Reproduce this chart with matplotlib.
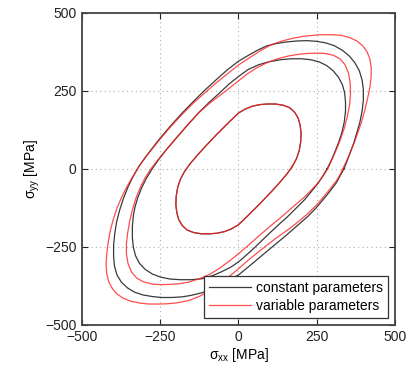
"""Yield locus comparison: constant vs variable parameters."""

import matplotlib

matplotlib.use("Agg")
import matplotlib.pyplot as plt

# inner locus (both parameter sets coincide)
inner_x = [172, 185, 194, 199, 200, 197, 191, 180, 164, 143, 118, 92, 68, 45, 22, 0, -31, -70,
           -106, -133, -155, -172, -185, -194, -199, -200, -197, -191, -180, -164, -143, -118,
           -92, -68, -45, -22, 0, 31, 70, 106, 133, 155, 172]
inner_y = [8, 32, 58, 88, 115, 140, 162, 181, 196, 204, 208, 208, 206, 201, 192, 179, 149, 110,
           72, 42, 16, -8, -32, -58, -88, -115, -140, -162, -181, -196, -204, -208,
           -208, -206, -201, -192, -179, -149, -110, -72, -42, -16, 8]

# middle locus
mid_const_x = [283, 295, 307, 319, 330, 338, 342, 342, 339, 332, 320, 303, 282, 258, 230, 200, 170,
               135, 100, 65, 30, 0, -30, -60, -95, -127, -165, -200, -230, -255, -276, -294,
               -309, -321, -330, -336, -339, -339, -336, -329, -316, -298, -275, -248, -218,
               -185, -150, -117, -85, -55, -25, 0, 30, 60, 95, 127, 158, 190, 211, 235, 254,
               270, 283]
mid_const_y = [0, 24, 52, 82, 115, 150, 185, 215, 245, 270, 293, 314, 331, 343, 350, 353, 353,
               350, 344, 334, 318, 296, 272, 244, 212, 180, 138, 97, 62, 30, 0, -30,
               -60, -90, -120, -150, -185, -220, -250, -278, -303, -322, -337, -347, -353,
               -355, -355, -352, -343, -330, -315, -298, -272, -244, -210, -180, -152, -120, -99, -70, -46,
               -22, 0]

mid_var_x = [285, 298, 311, 325, 338, 348, 355, 358, 357, 352, 341, 325, 304, 278, 250, 220, 190,
             160, 125, 90, 55, 25, 0, -30, -60, -95, -127, -165, -200, -232, -258, -280, -298,
             -313, -327, -338, -347, -354, -358, -358, -353, -342, -325, -303, -276, -248, -220,
             -190, -160, -125, -92, -60, -30, 0, 30, 65, 100, 130, 158, 185, 211, 235, 254, 271, 285]
mid_var_y = [0, 28, 58, 92, 130, 168, 205, 240, 275, 305, 333, 352, 364, 370, 371, 370, 367,
             362, 353, 340, 322, 302, 282, 258, 235, 208, 180, 138, 98, 60, 28, 0, -28,
             -58, -92, -128, -165, -205, -240, -272, -303, -330, -350, -362, -369, -371, -370,
             -368, -363, -352, -338, -318, -296, -272, -246, -215, -185, -160, -136, -112, -90, -65, -45, -22, 0]

# outer locus
out_const_x = [337, 347, 357, 368, 378, 388, 395, 399, 399, 395, 386, 372, 354, 332, 306, 278, 248,
               218, 188, 155, 122, 90, 60, 30, 0, -35, -72, -110, -145, -180, -215, -245, -271,
               -297, -318, -337, -353, -367, -379, -389, -395, -399, -399, -396, -388, -374, -355,
               -332, -305, -275, -245, -212, -180, -150, -117, -85, -55, -27, 0, 40, 84, 120, 158,
               190, 222, 248, 270, 292, 313, 327, 337]
out_const_y = [0, 25, 52, 82, 115, 150, 185, 220, 255, 285, 315, 340, 362, 380, 395, 404, 409,
               411, 410, 407, 402, 394, 380, 363, 345, 318, 285, 250, 215, 179, 140, 105, 72,
               38, 8, -25, -58, -93, -130, -168, -205, -245, -280, -312, -340, -363, -381,
               -395, -404, -409, -412, -412, -410, -405, -397, -385, -369, -353, -340, -307, -270, -240, -208,
               -180, -152, -125, -99, -72, -44, -18, 0]

out_var_x = [333, 345, 357, 369, 381, 393, 404, 413, 420, 424, 424, 420, 411, 397, 378, 355, 328,
             298, 268, 238, 208, 175, 140, 105, 72, 38, 0, -35, -72, -106, -145, -180, -215,
             -245, -271, -297, -318, -338, -357, -373, -388, -400, -410, -417, -421, -423, -421,
             -415, -404, -389, -369, -344, -315, -285, -255, -225, -195, -160, -124, -90, -60,
             -30, 0, 40, 84, 120, 158, 190, 222, 248, 270, 292, 313, 325, 333]
out_var_y = [0, 25, 52, 82, 115, 150, 190, 228, 262, 295, 325, 352, 375, 395, 410, 421, 428,
             430, 430, 428, 425, 419, 410, 398, 380, 358, 333, 305, 275, 245, 210, 175, 137,
             102, 70, 37, 8, -25, -58, -90, -125, -162, -200, -240, -275, -305, -335,
             -360, -382, -400, -414, -424, -430, -433, -433, -432, -429, -422, -408, -390, -370,
             -345, -320, -285, -250, -222, -195, -170, -143, -117, -92, -65, -38, -18, 0]

TICKS = [-500, -250, 0, 250, 500]

plt.rcParams["font.family"] = ["Liberation Sans", "DejaVu Sans"]
plt.rcParams["mathtext.fontset"] = "custom"
plt.rcParams["mathtext.rm"] = "Liberation Sans"
plt.rcParams["mathtext.it"] = "Liberation Sans:italic"

BLACK = "#3a3a3a"
RED = "#ff2020"

fig = plt.figure(figsize=(4.14, 3.68), dpi=100)
ax = fig.add_axes([0.198, 0.117, 0.756, 0.848])

line_const = None
line_var = None
for xs, ys in [(inner_x, inner_y), (mid_const_x, mid_const_y), (out_const_x, out_const_y)]:
    (line_const,) = ax.plot(xs, ys, color=BLACK, lw=0.9, solid_joinstyle="round")
for xs, ys in [(inner_x, inner_y), (mid_var_x, mid_var_y), (out_var_x, out_var_y)]:
    (line_var,) = ax.plot(xs, ys, color=RED, lw=0.9, alpha=0.8, solid_joinstyle="round")

ax.set_xlim(-500, 500)
ax.set_ylim(-500, 500)
ax.set_xticks(TICKS)
ax.set_yticks(TICKS)
ax.grid(True, color="#b0b0b0", linestyle=(0, (1, 3)), linewidth=0.8)
ax.tick_params(direction="in", top=True, right=True, length=4, width=0.8,
               labelsize=10, colors="#222222", pad=4)
for spine in ax.spines.values():
    spine.set_linewidth(1.3)
    spine.set_color("#444444")

ax.set_xlabel(r"$\mathregular{\sigma_{xx}}$ [MPa]", fontsize=10, labelpad=1)
ax.set_ylabel(r"$\mathregular{\sigma_{yy}}$ [MPa]", fontsize=10, labelpad=2)

leg = ax.legend([line_const, line_var], ["constant parameters", "variable parameters"],
                loc="lower right", bbox_to_anchor=(0.978, 0.022), fontsize=10,
                fancybox=False, framealpha=1, edgecolor="#333333", handlelength=3.0,
                borderpad=0.35, labelspacing=0.3, handletextpad=0.4, borderaxespad=0)
leg.get_frame().set_linewidth(0.9)

fig.savefig("out.png", dpi=100)
